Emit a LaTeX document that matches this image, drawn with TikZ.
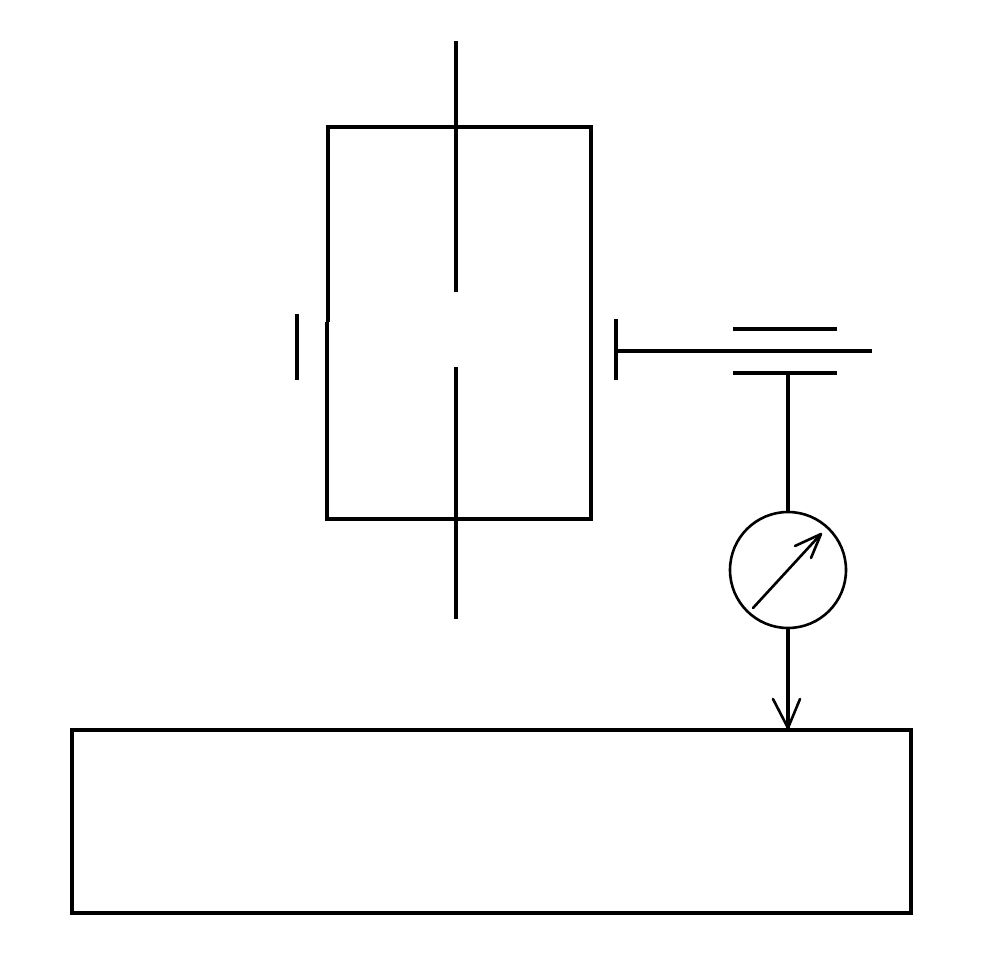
\documentclass[tikz,border=0pt]{standalone}
\tikzset{
  ln/.style={line width=3.2pt,black},
  thin ln/.style={line width=2.6pt,black,line cap=round,line join=round},
  px/.style={x=1pt,y=-1pt}
}
\begin{document}
\begin{tikzpicture}[px]
\useasboundingbox[fill=white] (0,0) rectangle (988,963);
% named points
\coordinate (axisTop) at (456,41);
\coordinate (axisUpEnd) at (456,292);
\coordinate (axisLowStart) at (456,367);
\coordinate (axisBottom) at (456,619);
\coordinate (hTL) at (328,127);
\coordinate (hTR) at (591,127);
\coordinate (hBR) at (591,519);
\coordinate (hBL) at (327,519);
\coordinate (hJogA) at (328,322);
\coordinate (hJogB) at (327,322);
\coordinate (lbT) at (297,314);
\coordinate (lbB) at (297,380);
\coordinate (rbT) at (616,319);
\coordinate (rbB) at (616,380);
\coordinate (rodL) at (616,351);
\coordinate (rodR) at (872,351);
\coordinate (gTopL) at (733,329);
\coordinate (gTopR) at (837,329);
\coordinate (gLowL) at (733,373);
\coordinate (gLowR) at (837,373);
\coordinate (gLowM) at (788,373);
\coordinate (needleA) at (753,608);
\coordinate (needleB) at (821,534);
\coordinate (barbA) at (795,546);
\coordinate (barbB) at (811,558);
\coordinate (tip) at (788,728);
\coordinate (tipA) at (773,699);
\coordinate (tipB) at (800,699);
% dial
\node[circle,draw,line width=2.6pt,minimum size=116pt,inner sep=0pt,outer sep=0pt] (dial) at (788,570) {};
% table
\node[draw,line width=3.2pt,minimum width=839pt,minimum height=183pt,inner sep=0pt,outer sep=0pt] (tbl) at (491.5,821.5) {};
% housing
\draw[ln,line join=miter] (hJogA) -- (hTL) -- (hTR) -- (hBR) -- (hBL) -- (hJogB);
% axis
\draw[ln] (axisTop) -- (axisUpEnd);
\draw[ln] (axisLowStart) -- (axisBottom);
% bearings
\draw[ln] (lbT) -- (lbB);
\draw[ln] (rbT) -- (rbB);
\draw[ln] (rodL) -- (rodR);
\draw[ln] (gTopL) -- (gTopR);
\draw[ln] (gLowL) -- (gLowR);
% connections
\draw[ln] (gLowM) -- (dial.north);
\draw[ln] (dial.south) -- (tip);
\draw[thin ln] (tipA) -- (tip) -- (tipB);
% needle
\draw[thin ln] (needleA) -- (needleB);
\draw[thin ln] (barbA) -- (needleB) -- (barbB);
\end{tikzpicture}
\end{document}
